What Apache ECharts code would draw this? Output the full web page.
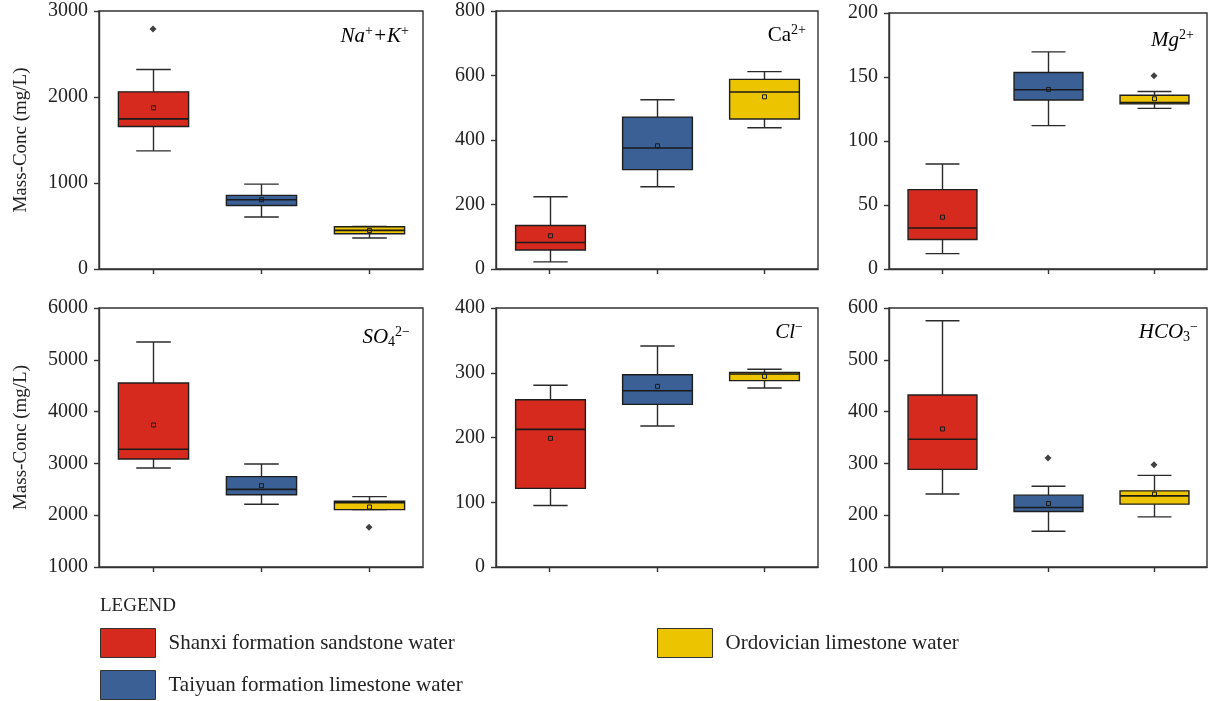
<!DOCTYPE html>
<html>
<head>
<meta charset="utf-8">
<script src="https://cdn.jsdelivr.net/npm/echarts@6/dist/echarts.min.js"></script>
<style>
html,body{margin:0;padding:0;background:#fff;}
#c{width:1211px;height:701px;}
</style>
</head>
<body>
<div id="c"></div>
<script>
// ---- DATA ----
const groups = ['Shanxi formation sandstone water', 'Taiyuan formation limestone water', 'Ordovician limestone water'];
const groupColors = ['#d62a1e', '#3a6096', '#ecc500'];
const categories = ['S', 'T', 'O'];
// each row: [lowerWhisker, Q1, median, Q3, upperWhisker, mean]
const naK = [[1374, 1657, 1746, 2060, 2319, 1874], [604, 739, 805, 856, 987, 805], [360, 410, 449, 492, 496, 449]];
const naKOut = [[0, 2791]];
const ca = [[22, 59, 82, 135, 224, 103], [255, 308, 375, 471, 525, 382], [438, 465, 549, 588, 612, 534]];
const caOut = [];
const mg = [[12, 23, 32, 62, 82, 40.5], [112, 132, 140, 153.5, 169.6, 140.3], [125.5, 129, 130, 135.8, 138.7, 133]];
const mgOut = [[2, 151]];
const so4 = [[2911, 3085, 3272, 4552, 5344, 3741], [2210, 2396, 2499, 2744, 2988, 2570], [2107, 2107, 2240, 2268, 2358, 2158]];
const so4Out = [[2, 1766]];
const cl = [[95, 121.5, 212.6, 258.4, 280.6, 198.7], [217.8, 251.2, 272.3, 297, 341.3, 279], [276.4, 287.8, 298, 300.6, 305.3, 294.5]];
const clOut = [];
const hco3 = [[241, 288.4, 346.5, 432, 575.5, 366.5], [169, 207, 214.8, 238.7, 256, 222.6], [196.8, 221.3, 237.4, 247, 276.8, 240.6]];
const hco3Out = [[1, 310.3], [2, 297.4]];
// y-axis ranges [min, max, interval]
const yRanges = [[0, 3000, 1000], [0, 800, 200], [0, 200, 50], [1000, 6000, 1000], [0, 400, 100], [100, 600, 100]];
const yAxisName = 'Mass-Conc (mg/L)';
const legendTitle = 'LEGEND';

const panels = [naK, ca, mg, so4, cl, hco3];
const panelOut = [naKOut, caOut, mgOut, so4Out, clOut, hco3Out];

// ---- LAYOUT ----
const grids = [
  {left: 99, top: 11, width: 324, height: 258},
  {left: 496, top: 11, width: 322, height: 258},
  {left: 889, top: 13, width: 318, height: 256},
  {left: 99, top: 308, width: 324, height: 259},
  {left: 496, top: 308, width: 322, height: 259},
  {left: 889, top: 308, width: 318, height: 259}
];
const FONT = '"Liberation Serif", "DejaVu Serif", serif';
const AX = '#333';

function renderBox(params, api) {
  const x = api.value(0);
  const band = api.size([1, 0])[0];
  const bw = band * 0.65, cw = band * 0.32;
  const p = v => api.coord([x, v]);
  const lo = p(api.value(1)), q1 = p(api.value(2)), md = p(api.value(3)),
        q3 = p(api.value(4)), hi = p(api.value(5)), mn = p(api.value(6));
  const cx = Math.round(lo[0]) + 0.5;
  const color = api.visual('color');
  const ls = {stroke: '#2a2a2a', lineWidth: 1.4, fill: null};
  return {
    type: 'group',
    children: [
      {type: 'line', shape: {x1: cx, y1: hi[1], x2: cx, y2: q3[1]}, style: ls},
      {type: 'line', shape: {x1: cx, y1: q1[1], x2: cx, y2: lo[1]}, style: ls},
      {type: 'line', shape: {x1: cx - cw / 2, y1: hi[1], x2: cx + cw / 2, y2: hi[1]}, style: ls},
      {type: 'line', shape: {x1: cx - cw / 2, y1: lo[1], x2: cx + cw / 2, y2: lo[1]}, style: ls},
      {type: 'rect', shape: {x: cx - bw / 2, y: q3[1], width: bw, height: q1[1] - q3[1]},
        style: {fill: color, stroke: '#1e1e1e', lineWidth: 1.4}},
      {type: 'line', shape: {x1: cx - bw / 2, y1: md[1], x2: cx + bw / 2, y2: md[1]},
        style: {stroke: '#1a1a1a', lineWidth: 1.6}},
      {type: 'rect', shape: {x: cx - 2, y: mn[1] - 2, width: 4, height: 4},
        style: {fill: null, stroke: '#1a1a1a', lineWidth: 1}}
    ]
  };
}

const xAxes = [], yAxes = [], series = [];
grids.forEach((g, i) => {
  g.show = true;
  g.borderColor = AX;
  g.borderWidth = 1.4;
  g.backgroundColor = 'transparent';
  xAxes.push({
    type: 'category', gridIndex: i, data: categories,
    axisLine: {show: true, lineStyle: {color: AX, width: 1.4}},
    axisTick: {show: true, alignWithLabel: true, length: 5, inside: false, lineStyle: {color: AX, width: 1.4}},
    axisLabel: {show: false},
    splitLine: {show: false}
  });
  const r = yRanges[i];
  yAxes.push({
    type: 'value', gridIndex: i, min: r[0], max: r[1], interval: r[2],
    name: (i % 3 === 0) ? yAxisName : '',
    nameLocation: 'middle', nameGap: 68, nameRotate: 90,
    nameTextStyle: {fontFamily: FONT, fontSize: 19, color: '#222'},
    axisLine: {show: true, lineStyle: {color: AX, width: 1.4}},
    axisTick: {show: true, length: 5, inside: false, lineStyle: {color: AX, width: 1.4}},
    axisLabel: {show: true, margin: 11, fontFamily: FONT, fontSize: 20, color: '#222',
      formatter: v => String(v)},
    splitLine: {show: false}
  });
  panels[i].forEach((st, gi) => {
    series.push({
      type: 'custom', name: groups[gi], xAxisIndex: i, yAxisIndex: i,
      itemStyle: {color: groupColors[gi], borderColor: '#222', borderWidth: 1},
      renderItem: renderBox,
      encode: {x: 0, y: [1, 2, 3, 4, 5, 6]},
      data: [[gi].concat(st)],
      silent: true, animation: false
    });
  });
  series.push({
    type: 'scatter', name: 'outlier', xAxisIndex: i, yAxisIndex: i,
    symbol: 'diamond', symbolSize: 7, itemStyle: {color: '#111'},
    data: panelOut[i], silent: true, animation: false
  });
});

// panel labels (rich text)
const rich = {
  i: {fontFamily: FONT, fontSize: 21, fontStyle: 'italic', color: '#111', lineHeight: 24, verticalAlign: 'middle'},
  u: {fontFamily: FONT, fontSize: 21, color: '#111', lineHeight: 24, verticalAlign: 'middle'},
  sp: {fontFamily: FONT, fontSize: 14, color: '#111', lineHeight: 14, verticalAlign: 'top'},
  sb: {fontFamily: FONT, fontSize: 14, color: '#111', lineHeight: 8, verticalAlign: 'bottom'}
};
const labels = [
  {t: '{i|Na}{sp|+}{i|+K}{sp|+}', x: 409, y: 36},
  {t: '{u|Ca}{sp|2+}', x: 806, y: 35},
  {t: '{i|Mg}{sp|2+}', x: 1194, y: 40},
  {t: '{i|SO}{sb|4}{sp|2\u2212}', x: 410, y: 337},
  {t: '{i|Cl}{sp|\u2212}', x: 803, y: 332},
  {t: '{i|HCO}{sb|3}{sp|\u2212}', x: 1198, y: 332}
];
const graphics = labels.map(l => ({
  type: 'text', x: l.x, y: l.y, silent: true,
  style: {text: l.t, rich: rich, align: 'right', verticalAlign: 'middle'}
}));

const legendBase = {
  icon: 'rect', itemWidth: 55, itemHeight: 29, orient: 'horizontal',
  itemStyle: {borderColor: '#333', borderWidth: 1},
  textStyle: {fontFamily: FONT, fontSize: 21, color: '#222', padding: [0, 0, 0, 8]},
  selectedMode: false, padding: 0
};

const option = {
  animation: false,
  backgroundColor: '#fff',
  title: {text: legendTitle, left: 100, top: 597, padding: 0,
    textStyle: {fontFamily: FONT, fontSize: 19, fontWeight: 'normal', color: '#222'}},
  grid: grids,
  xAxis: xAxes,
  yAxis: yAxes,
  legend: [
    Object.assign({}, legendBase, {left: 100, top: 628, data: [groups[0]]}),
    Object.assign({}, legendBase, {left: 100, top: 670, data: [groups[1]]}),
    Object.assign({}, legendBase, {left: 657, top: 628, data: [groups[2]]})
  ],
  tooltip: {show: false},
  graphic: graphics,
  series: series
};

const chart = echarts.init(document.getElementById('c'), null, {renderer: 'canvas'});
chart.setOption(option);
</script>
</body>
</html>
